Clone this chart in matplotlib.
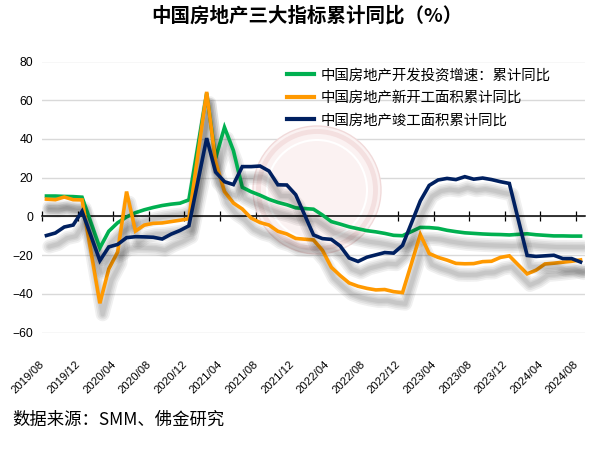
import numpy as np
import pandas as pd
import matplotlib
matplotlib.use("Agg")
import matplotlib.pyplot as plt
from matplotlib import patheffects as pe
from matplotlib.lines import Line2D
from matplotlib.patches import Circle

nan = np.nan

# months 2019/08 .. 2024/08, January figures are not published (gaps)
months = list(pd.date_range("2019-08-01", "2024-08-01", freq="MS").strftime("%Y/%m"))

# 中国房地产开发投资增速：累计同比
invest = [10.5, 10.5, 10.3, 10.2, 9.9, nan, -16.3, -7.7, -3.3, -0.3, 1.9, 3.4, 4.6, 5.6, 6.3, 6.8,
          8.5, nan, 63.5, 30.0, 46.0, 34.0, 15.0, 12.7, 10.9, 8.8, 7.2, 6.0, 4.4, nan,
          3.7, 0.7, -2.7, -4.0, -5.4, -6.4, -7.4, -8.0, -8.8, -9.8, -10.0, nan,
          -5.7, -5.8, -6.2, -7.2, -7.9, -8.5, -8.8, -9.1, -9.3, -9.4, -9.6, nan,
          -9.0, -9.5, -9.8, -10.1, -10.1, -10.2, -10.2]
# 中国房地产新开工面积累计同比
new_start = [8.9, 8.6, 10.0, 8.6, 8.5, nan, -44.9, -27.2, -18.4, 12.8, -7.6, -4.5, -3.6, -3.4, -2.7, -2.0,
             -1.2, nan, 64.3, 28.2, 12.8, 6.9, 3.8, -0.9, -3.2, -4.5, -7.7, -9.1, -11.4, nan,
             -12.2, -17.5, -26.3, -30.6, -34.4, -36.1, -37.2, -38.0, -37.8, -38.9, -39.4, nan,
             -9.4, -19.2, -21.2, -22.6, -24.3, -24.5, -24.4, -23.4, -23.2, -21.2, -20.4, nan,
             -29.7, -27.8, -24.6, -24.2, -23.7, -23.2, -22.5]
# 中国房地产竣工面积累计同比
completed = [-9.9, -8.6, -5.5, -4.5, 2.6, nan, -22.9, -15.8, -14.5, -11.0, -10.5, -10.6, -10.8, -11.7, -9.2, -7.3,
             -4.9, nan, 40.4, 22.9, 17.9, 16.4, 25.7, 25.7, 26.0, 23.4, 16.3, 16.2, 11.2, nan,
             -9.6, -11.5, -11.9, -15.3, -21.5, -23.3, -21.1, -19.9, -18.7, -19.0, -15.0, nan,
             8.0, 16.0, 18.8, 19.6, 19.0, 20.5, 19.2, 19.8, 19.0, 17.9, 17.0, nan,
             -20.2, -20.7, -20.4, -20.1, -21.8, -21.8, -23.6]

labels = ["中国房地产开发投资增速：累计同比", "中国房地产新开工面积累计同比", "中国房地产竣工面积累计同比"]
colors = ["#00b050", "#ff9900", "#002060"]
yticks = [-60, -40, -20, 0, 20, 40, 60, 80]

cjk = ["Noto Sans CJK SC", "DejaVu Sans"]
plt.rcParams["font.family"] = ["Liberation Sans", "DejaVu Sans"]

fig = plt.figure(figsize=(6.04, 4.49), dpi=100)
ax = fig.add_axes([42 / 604, 1 - 332.5 / 449, 543 / 604, 271 / 449])

# watermark logo (very light)
cx, cy = 3.17, 2.59
ax.add_patch(Circle((cx, cy), 0.64, transform=fig.dpi_scale_trans, facecolor="#fbf2f2",
                    edgecolor="#f1dada", lw=1.0, zorder=1))
ax.add_patch(Circle((cx, cy), 0.585, transform=fig.dpi_scale_trans, fill=False,
                    edgecolor="#f4e0e0", lw=3.5, zorder=1))
ax.add_patch(Circle((cx, cy), 0.50, transform=fig.dpi_scale_trans, fill=False,
                    edgecolor="white", lw=1.5, zorder=1))

x = np.arange(len(months))
shadow = [pe.SimpleLineShadow(offset=(2, -8), shadow_color="black", alpha=0.06,
                              linewidth=w, joinstyle="round", capstyle="round")
          for w in (10, 7.5, 5, 3)]

for vals, c in zip([invest, new_start, completed], colors):
    y = np.array(vals, dtype=float)
    m = ~np.isnan(y)
    ax.plot(x[m], y[m], color=c, lw=2.6, solid_joinstyle="miter", zorder=3,
            path_effects=shadow + [pe.Normal()])

ax.set_xlim(-0.5, len(months) - 0.5)
ax.set_ylim(-60, 80)
ax.set_yticks(yticks)
ax.yaxis.grid(True, color="#d9d9d9", lw=1)
ax.set_axisbelow(True)
ax.tick_params(axis="y", length=0, pad=6.5, labelsize=8.7)

for s in ["left", "right", "top"]:
    ax.spines[s].set_visible(False)
ax.spines["bottom"].set_position(("data", 0))
ax.spines["bottom"].set_linewidth(1.1)
ax.spines["bottom"].set_zorder(2.5)
tick_pos = np.arange(0, len(months), 4) - 0.5
ax.set_xticks(tick_pos)
ax.tick_params(axis="x", direction="inout", length=7, width=0.9, labelbottom=False)

for p, lab in zip(tick_pos, months[::4]):
    ax.text(p + 0.1, -0.112, lab, transform=ax.get_xaxis_transform(), rotation=45,
            rotation_mode="anchor", ha="right", va="center", fontsize=8.2)

handles = [Line2D([], [], color=c, lw=3) for c in colors]
ax.legend(handles, labels, loc="upper left", bbox_to_anchor=(287 / 604, 1 - 68 / 449),
          bbox_transform=fig.transFigure, frameon=False, borderpad=0, borderaxespad=0,
          handlelength=1.9, handletextpad=0.45, labelspacing=0.6,
          prop={"family": cjk, "size": 10.4})

fig.text(307 / 604, 1 - 16 / 449, "中国房地产三大指标累计同比（%）", ha="center", va="center",
         fontsize=14, fontweight="bold", family=cjk)
fig.text(12 / 604, 1 - 420 / 449, "数据来源：SMM、佛金研究", ha="left", va="center",
         fontsize=12.5, family=cjk)

fig.savefig("out.png", dpi=100)
